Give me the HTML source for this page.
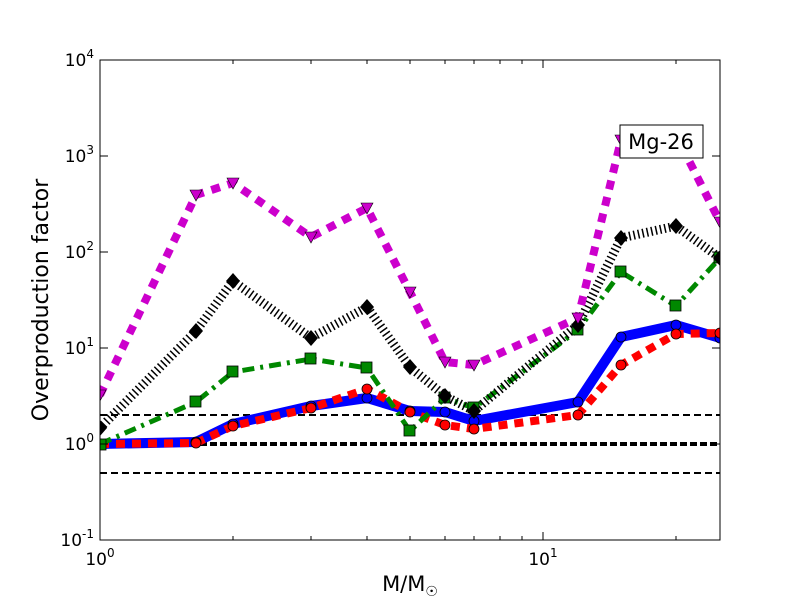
<!DOCTYPE html>
<html><head><meta charset="utf-8"><style>body{margin:0;background:#fff}svg{display:block}</style></head><body>
<svg width="800" height="600" xmlns="http://www.w3.org/2000/svg" font-family="'DejaVu Sans','Liberation Sans',sans-serif">
<defs><clipPath id="c"><rect x="100" y="60" width="620" height="480"/></clipPath></defs>
<rect width="800" height="600" fill="#fff"/>
<g clip-path="url(#c)">
<line x1="100" y1="415" x2="720" y2="415" stroke="#000" stroke-width="2" stroke-dasharray="7,4"/>
<line x1="100" y1="444" x2="720" y2="444" stroke="#000" stroke-width="4" stroke-dasharray="7,3"/>
<line x1="100" y1="473" x2="720" y2="473" stroke="#000" stroke-width="2" stroke-dasharray="7,4"/>
<polyline fill="none" stroke="#00f" stroke-width="10" stroke-linejoin="round" points="100,444 196,442 233,424 311,406 367,398 410,411 445,412 474,421 578,402 621,337 676,325 720,338"/>
<polyline fill="none" stroke="#f00" stroke-width="8" stroke-dasharray="9,7" points="100,444 196,443 233,426 311,408 367,389 410,412 445,425 474,429 578,415 621,365 676,334 720,333"/>
<polyline fill="none" stroke="#080" stroke-width="5" stroke-dasharray="12,6,3,6" points="100,444 196,402 233,372 311,359 367,368 410,431 445,398 474,408 578,330 621,272 676,306 720,258"/>
<polyline fill="none" stroke="#000" stroke-width="9" stroke-dasharray="1.5,3" points="100,428 196,331 233,281 311,338 367,307 410,367 445,396 474,411 578,325 621,238 676,226 720,258"/>
<polyline fill="none" stroke="#c0c" stroke-width="8" stroke-dasharray="9,8" points="100,395 196,195 233,183 311,237 367,208 410,292 445,362 474,365 578,318 621,140 676,135 720,222"/>
<g fill="#00f" stroke="#000" stroke-width="0.8">
<circle cx="100" cy="444" r="5"/><circle cx="196" cy="442" r="5"/><circle cx="233" cy="424" r="5"/><circle cx="311" cy="406" r="5"/><circle cx="367" cy="398" r="5"/><circle cx="410" cy="411" r="5"/><circle cx="445" cy="412" r="5"/><circle cx="474" cy="421" r="5"/><circle cx="578" cy="402" r="5"/><circle cx="621" cy="337" r="5"/><circle cx="676" cy="325" r="5"/><circle cx="720" cy="338" r="5"/></g>
<g fill="#f00" stroke="#000" stroke-width="0.8">
<circle cx="100" cy="444" r="5"/><circle cx="196" cy="443" r="5"/><circle cx="233" cy="426" r="5"/><circle cx="311" cy="408" r="5"/><circle cx="367" cy="389" r="5"/><circle cx="410" cy="412" r="5"/><circle cx="445" cy="425" r="5"/><circle cx="474" cy="429" r="5"/><circle cx="578" cy="415" r="5"/><circle cx="621" cy="365" r="5"/><circle cx="676" cy="334" r="5"/><circle cx="720" cy="333" r="5"/></g>
<g fill="#080" stroke="#000" stroke-width="0.8">
<rect x="95" y="439" width="11" height="11"/><rect x="190" y="396" width="11" height="11"/><rect x="227" y="366" width="11" height="11"/><rect x="305" y="353" width="11" height="11"/><rect x="361" y="362" width="11" height="11"/><rect x="404" y="425" width="11" height="11"/><rect x="439" y="392" width="11" height="11"/><rect x="468" y="402" width="11" height="11"/><rect x="572" y="324" width="11" height="11"/><rect x="615" y="266" width="11" height="11"/><rect x="670" y="300" width="11" height="11"/><rect x="714" y="252" width="11" height="11"/></g>
<g fill="#000">
<polygon points="100,420 107,428 100,436 93,428"/><polygon points="196,323 203,331 196,339 189,331"/><polygon points="233,273 240,281 233,289 226,281"/><polygon points="311,330 318,338 311,346 304,338"/><polygon points="367,299 374,307 367,315 360,307"/><polygon points="410,359 417,367 410,375 403,367"/><polygon points="445,388 452,396 445,404 438,396"/><polygon points="474,403 481,411 474,419 467,411"/><polygon points="578,317 585,325 578,333 571,325"/><polygon points="621,230 628,238 621,246 614,238"/><polygon points="676,218 683,226 676,234 669,226"/><polygon points="720,250 727,258 720,266 713,258"/></g>
<g fill="#c0c" stroke="#000" stroke-width="0.6">
<polygon points="94,390 106,390 100,401"/><polygon points="190,190 202,190 196,201"/><polygon points="227,178 239,178 233,189"/><polygon points="305,232 317,232 311,243"/><polygon points="361,203 373,203 367,214"/><polygon points="404,287 416,287 410,298"/><polygon points="439,357 451,357 445,368"/><polygon points="468,360 480,360 474,371"/><polygon points="572,313 584,313 578,324"/><polygon points="615,135 627,135 621,146"/><polygon points="670,130 682,130 676,141"/><polygon points="714,217 726,217 720,228"/></g>
<rect x="620" y="125" width="83" height="33" fill="#fff" stroke="#000" stroke-width="1"/>
<text x="661" y="149" font-size="21" text-anchor="middle">Mg-26</text>
</g>
<rect x="100" y="60" width="620" height="480" fill="none" stroke="#000" stroke-width="1"/>
<g stroke="#000" stroke-width="1">
<path d="M100,60v8M100,540v-8M543,60v8M543,540v-8"/>
<path d="M100,156h8M100,252h8M100,348h8M100,444h8M720,156h-8M720,252h-8M720,348h-8M720,444h-8"/>
<path d="M233,540v-4M311,540v-4M367,540v-4M410,540v-4M445,540v-4M474,540v-4M500,540v-4M522,540v-4M676,540v-4M233,60v4M311,60v4M367,60v4M410,60v4M445,60v4M474,60v4M500,60v4M522,60v4M676,60v4"/>
</g>
<g font-size="17" text-anchor="end">
<text x="94" y="66">10<tspan font-size="12" dy="-8">4</tspan></text>
<text x="94" y="162">10<tspan font-size="12" dy="-8">3</tspan></text>
<text x="94" y="258">10<tspan font-size="12" dy="-8">2</tspan></text>
<text x="94" y="354">10<tspan font-size="12" dy="-8">1</tspan></text>
<text x="94" y="450">10<tspan font-size="12" dy="-8">0</tspan></text>
<text x="94" y="546">10<tspan font-size="12" dy="-8">-1</tspan></text>
</g>
<g font-size="17" text-anchor="middle">
<text x="100" y="565">10<tspan font-size="12" dy="-8">0</tspan></text>
<text x="543" y="565">10<tspan font-size="12" dy="-8">1</tspan></text>
</g>
<text x="410" y="591" font-size="21" text-anchor="middle">M/M<tspan font-size="14" dy="5">☉</tspan></text>
<text transform="translate(48,300) rotate(-90)" font-size="22" text-anchor="middle">Overproduction factor</text>
</svg>
</body></html>
